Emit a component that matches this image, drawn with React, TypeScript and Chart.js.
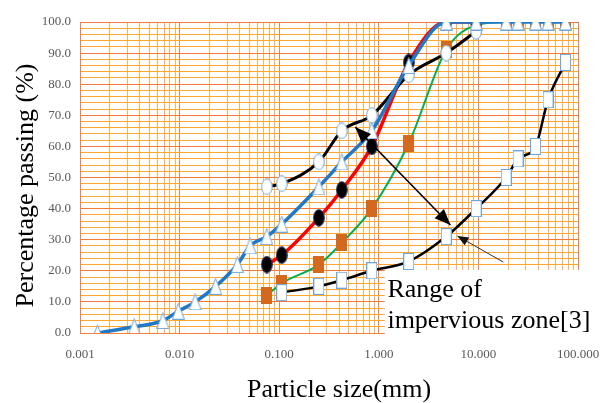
import React, { useEffect, useRef } from 'react';
import { Chart, registerables } from 'chart.js';

Chart.register(...registerables);

// ---- data ----
const triSizes = [0.0015, 0.0035, 0.0068, 0.0097, 0.0143, 0.023, 0.038, 0.051, 0.075, 0.106, 0.25, 0.425, 0.85, 2.0, 4.75, 9.5, 19, 25, 37.5, 50, 75];
const triPassing = [0, 2, 4, 7, 10, 15, 22, 28, 31, 35, 47, 55, 65, 86, 100, 100, 100, 100, 100, 100, 100];

const openCircleSizes = [0.075, 0.106, 0.25, 0.425, 0.85, 2.0, 4.75, 9.5];
const openCirclePassing = [47, 48, 55, 65, 70, 83, 90, 97];

const filledCircleSizes = [0.075, 0.106, 0.25, 0.425, 0.85, 2.0, 4.75, 9.5];
const filledCirclePassing = [22, 25, 37, 46, 60, 87, 100, 100];

const brownSquareSizes = [0.075, 0.106, 0.25, 0.425, 0.85, 2.0, 4.75, 9.5, 19, 25, 37.5, 50, 75];
const brownSquarePassing = [12, 16, 22, 29, 40, 61, 91, 99, 100, 100, 100, 100, 100];

const openSquareSizes = [0.106, 0.25, 0.425, 0.85, 2.0, 4.75, 9.5, 19, 25, 37.5, 50, 75];
const openSquarePassing = [13, 15, 17, 20, 23, 31, 40, 50, 56, 60, 75, 87];

const xDecades = [0.001, 0.01, 0.1, 1, 10, 100];
const yTickLabels = [0, 10, 20, 30, 40, 50, 60, 70, 80, 90, 100];

const xTitle = 'Particle size(mm)';
const yTitle = 'Percentage passing (%)';
const noteLines = ['Range of', 'impervious zone[3]'];

// annotation anchors in data units
const noteBox = { xFrom: 1.15, yTop: 20.3 };
const noteText = { x: 1.22, y1: 11.6, y2: 1.6 };
const bigArrow = { x1: 0.58, y1: 66.2, x2: 5.24, y2: 34.7 };
const smallArrow = { x1: 17.8, y1: 22.8, x2: 6.15, y2: 31.2 };

const pts = (xs: number[], ys: number[]) => xs.map((x, i) => ({ x, y: ys[i] }));

function marker(w: number, h: number, draw: (c: CanvasRenderingContext2D, w: number, h: number) => void) {
  const c = document.createElement('canvas');
  c.width = w;
  c.height = h;
  const ctx = c.getContext('2d')!;
  draw(ctx, w, h);
  return c;
}

const SERIF = '"Liberation Serif", "Times New Roman", serif';

export default function App() {
  const ref = useRef<HTMLCanvasElement | null>(null);

  useEffect(() => {
    document.body.style.margin = '0';
    const triangle = marker(13, 17, (c, w, h) => {
      c.beginPath();
      c.moveTo(w / 2, 0.5);
      c.lineTo(w - 0.5, h - 0.5);
      c.lineTo(0.5, h - 0.5);
      c.closePath();
      c.fillStyle = '#ffffff';
      c.fill();
      c.strokeStyle = '#6ea6da';
      c.lineWidth = 1;
      c.stroke();
    });
    const openEllipse = marker(12, 17, (c, w, h) => {
      c.beginPath();
      c.ellipse(w / 2, h / 2, w / 2 - 0.7, h / 2 - 0.7, 0, 0, Math.PI * 2);
      c.fillStyle = '#ffffff';
      c.fill();
      c.strokeStyle = '#6ea6da';
      c.lineWidth = 1;
      c.stroke();
    });
    const filledEllipse = marker(12, 18, (c, w, h) => {
      c.beginPath();
      c.ellipse(w / 2, h / 2, w / 2 - 0.7, h / 2 - 0.7, 0, 0, Math.PI * 2);
      c.fillStyle = '#000000';
      c.fill();
      c.strokeStyle = '#1f2f6a';
      c.lineWidth = 1;
      c.stroke();
    });
    const brownRect = marker(11, 17, (c, w, h) => {
      c.fillStyle = '#d2691f';
      c.fillRect(0, 0, w, h);
    });
    const openRect = marker(11, 17, (c, w, h) => {
      c.fillStyle = '#ffffff';
      c.fillRect(0, 0, w, h);
      c.strokeStyle = '#6ea6da';
      c.lineWidth = 1;
      c.strokeRect(0.5, 0.5, w - 1, h - 1);
    });

    const xTicks: { value: number; major: boolean }[] = [];
    for (let d = 0; d < xDecades.length - 1; d++) {
      for (let k = 1; k <= 9; k++) xTicks.push({ value: xDecades[d] * k, major: k === 1 });
    }
    xTicks.push({ value: xDecades[xDecades.length - 1], major: true });

    const annotate = {
      id: 'annotate',
      beforeDatasetsDraw(chart: any) {
        const { ctx, scales, chartArea } = chart;
        const x = scales.x, y = scales.y;
        const left = x.getPixelForValue(noteBox.xFrom);
        const top = y.getPixelForValue(noteBox.yTop);
        ctx.save();
        ctx.fillStyle = '#ffffff';
        ctx.fillRect(left, top, chart.width - left, chartArea.bottom - top + 1);
        ctx.restore();
      },
      afterDatasetsDraw(chart: any) {
        const { ctx, scales } = chart;
        const x = scales.x, y = scales.y;
        const px = (v: number) => x.getPixelForValue(v);
        const py = (v: number) => y.getPixelForValue(v);
        const head = (fx: number, fy: number, tx: number, ty: number, len: number, wid: number) => {
          const a = Math.atan2(ty - fy, tx - fx);
          ctx.beginPath();
          ctx.moveTo(tx, ty);
          ctx.lineTo(tx - len * Math.cos(a) + (wid / 2) * Math.sin(a), ty - len * Math.sin(a) - (wid / 2) * Math.cos(a));
          ctx.lineTo(tx - len * Math.cos(a) - (wid / 2) * Math.sin(a), ty - len * Math.sin(a) + (wid / 2) * Math.cos(a));
          ctx.closePath();
          ctx.fill();
        };
        ctx.save();
        let x1 = px(bigArrow.x1), y1 = py(bigArrow.y1), x2 = px(bigArrow.x2), y2 = py(bigArrow.y2);
        ctx.strokeStyle = '#000';
        ctx.fillStyle = '#000';
        ctx.lineWidth = 1.5;
        ctx.beginPath();
        ctx.moveTo(x1, y1);
        ctx.lineTo(x2, y2);
        ctx.stroke();
        head(x1, y1, x2, y2, 16, 13);
        head(x2, y2, x1, y1, 16, 13);
        x1 = px(smallArrow.x1); y1 = py(smallArrow.y1); x2 = px(smallArrow.x2); y2 = py(smallArrow.y2);
        ctx.strokeStyle = '#333';
        ctx.fillStyle = '#111';
        ctx.lineWidth = 1;
        ctx.beginPath();
        ctx.moveTo(x1, y1);
        ctx.lineTo(x2, y2);
        ctx.stroke();
        head(x1, y1, x2, y2, 11, 9);
        ctx.fillStyle = '#000';
        ctx.font = '26px ' + SERIF;
        ctx.textAlign = 'left';
        ctx.textBaseline = 'alphabetic';
        ctx.fillText(noteLines[0], px(noteText.x), py(noteText.y1));
        ctx.fillText(noteLines[1], px(noteText.x), py(noteText.y2));
        ctx.restore();
      },
      afterDraw(chart: any) {
        const { ctx, chartArea } = chart;
        ctx.save();
        ctx.fillStyle = '#000';
        ctx.font = '26px ' + SERIF;
        ctx.textAlign = 'center';
        ctx.textBaseline = 'alphabetic';
        ctx.fillText(xTitle, (chartArea.left + chartArea.right) / 2 + 10, chart.height - 6);
        ctx.translate(33, (chartArea.top + chartArea.bottom) / 2 + 8);
        ctx.rotate(-Math.PI / 2);
        ctx.fillText(yTitle, 0, 0);
        ctx.restore();
      },
    };

    const base = {
      cubicInterpolationMode: 'monotone' as const,
      pointRadius: 6,
      pointHoverRadius: 6,
    };

    const chart = new Chart(ref.current!, {
      type: 'line',
      data: {
        datasets: [
          { ...base, label: 'A', data: pts(triSizes, triPassing), borderColor: '#1f78c8', borderWidth: 3.5, pointStyle: triangle as any },
          { ...base, label: 'B', data: pts(openCircleSizes, openCirclePassing), borderColor: '#000000', borderWidth: 3, pointStyle: openEllipse as any },
          { ...base, label: 'C', data: pts(filledCircleSizes, filledCirclePassing), borderColor: '#ff0000', borderWidth: 3.5, pointStyle: filledEllipse as any },
          { ...base, label: 'E', data: pts(openSquareSizes, openSquarePassing), borderColor: '#000000', borderWidth: 2.5, pointStyle: openRect as any },
          { ...base, label: 'D', data: pts(brownSquareSizes, brownSquarePassing), borderColor: '#00b050', borderWidth: 2, pointStyle: brownRect as any },
        ],
      },
      options: {
        animation: false,
        responsive: false,
        layout: { padding: { top: 22, right: 28, left: 0, bottom: 0 } },
        plugins: { legend: { display: false }, tooltip: { enabled: false } },
        scales: {
          x: {
            type: 'logarithmic',
            min: 0.001,
            max: 100,
            afterBuildTicks: (scale: any) => {
              scale.ticks = xTicks.map((t) => ({ ...t }));
            },
            afterFit: (scale: any) => {
              scale.height = 70;
              scale.paddingLeft = 0;
              scale.paddingRight = 0;
            },
            ticks: {
              autoSkip: false,
              maxRotation: 0,
              padding: 14,
              color: '#595959',
              font: { family: SERIF, size: 13 },
              callback: (v: any) => (xDecades.includes(Number(v)) ? Number(v).toFixed(3) : ''),
            },
            grid: {
              drawTicks: false,
              color: (c: any) => (c.tick && c.tick.major ? '#f4823c' : '#ffb14d'),
              lineWidth: 1,
            },
            border: { color: '#f4823c' },
          },
          y: {
            type: 'linear',
            min: 0,
            max: 100,
            afterFit: (scale: any) => {
              scale.width = 80;
            },
            ticks: {
              stepSize: 2,
              autoSkip: false,
              padding: 9,
              color: '#595959',
              font: { family: SERIF, size: 13 },
              callback: (v: any) => (yTickLabels.includes(Number(v)) ? Number(v).toFixed(1) : ''),
            },
            grid: {
              drawTicks: false,
              color: (c: any) => (c.tick && c.tick.value % 10 === 0 ? '#f4793a' : '#ffa733'),
              lineWidth: 1,
            },
            border: { color: '#f4823c' },
          },
        },
      } as any,
      plugins: [annotate],
    });
    return () => chart.destroy();
  }, []);

  return (
    <div style={{ width: 606, height: 403 }}>
      <canvas ref={ref} width={606} height={403} />
    </div>
  );
}
